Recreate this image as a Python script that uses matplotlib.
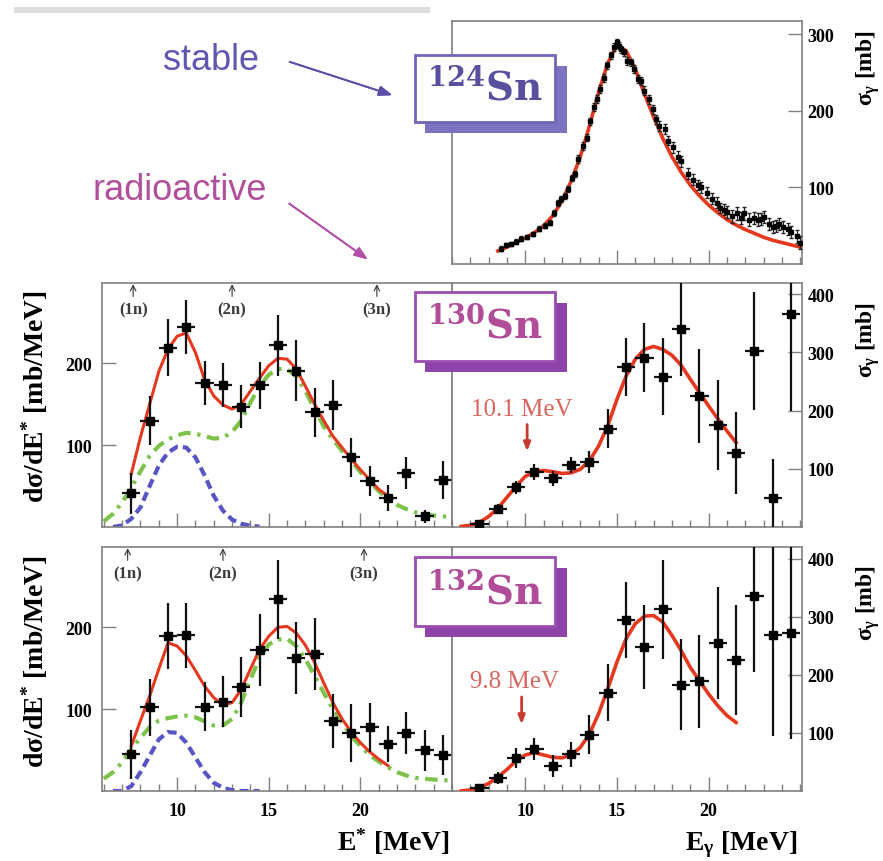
import matplotlib.pyplot as plt
from matplotlib.patches import Rectangle
from matplotlib.ticker import FixedLocator, MultipleLocator

plt.rcParams['font.family'] = 'Liberation Serif'
plt.rcParams['font.weight'] = 'bold'
plt.rcParams['mathtext.fontset'] = 'custom'
plt.rcParams['mathtext.rm'] = 'Liberation Serif:bold'
plt.rcParams['mathtext.it'] = 'Liberation Serif:bold'
plt.rcParams['mathtext.bf'] = 'Liberation Serif:bold'

W, H = 883, 862
RED = '#e5391f'
GREEN = '#7dc24a'
BLUE = '#5a55c4'
AXIS = '#808080'

# ---- 124Sn photoabsorption (top panel) ----
e124 = [8.65, 8.93, 9.2, 9.48, 9.76, 10.07, 10.4, 10.74, 11.05, 11.33, 11.55, 11.8, 11.97,
        12.16, 12.34, 12.53, 12.7, 12.9, 13.17, 13.36, 13.54, 13.73, 13.9, 14.1, 14.28,
        14.46, 14.65, 14.83, 14.98, 15.1, 15.2, 15.39, 15.57, 15.76, 15.94, 16.13, 16.3,
        16.5, 16.77, 16.96, 17.14, 17.32, 17.6, 17.8, 18.06, 18.34, 18.52, 18.9, 19.17,
        19.45, 19.6, 19.9, 20.2, 20.46, 20.65, 20.83, 21.0, 21.3, 21.57, 21.75, 21.94,
        22.2, 22.5, 22.7, 22.86, 23.04, 23.3, 23.5, 23.7, 23.87, 24.06, 24.34, 24.5,
        24.8, 25.0]
s124 = [20, 25, 26, 29, 33, 35, 39, 46, 50, 54, 66, 80, 85,
        89, 98, 112, 117, 137, 154, 165, 186, 205, 215, 228, 243,
        259, 272, 283, 289, 285, 280, 276, 265, 263, 254, 241, 239,
        226, 215, 202, 189, 180, 176, 161, 152, 140, 134, 118, 110,
        103, 100, 93, 85, 80, 73, 71, 68, 62, 66, 60, 66,
        58, 60, 58, 59, 61, 52, 48, 50, 52, 48, 46, 42,
        36, 28]
ds124 = [3, 3, 3, 3, 3, 3, 3, 3, 3, 3, 4, 4, 4,
         4, 4, 4, 4, 5, 5, 5, 5, 5, 5, 5, 5,
         5, 5, 5, 5, 5, 5, 5, 5, 5, 5, 5, 5,
         6, 6, 6, 6, 6, 6, 6, 7, 7, 7, 7, 7,
         7, 7, 7, 7, 7, 7, 7, 8, 8, 8, 8, 8,
         8, 8, 8, 8, 8, 8, 8, 8, 8, 8, 8, 8,
         8, 8]
fit124_e = [8.5, 9.0, 9.5, 10.0, 10.5, 11.0, 11.5, 12.0, 12.5, 13.0, 13.5, 14.0, 14.5,
            15.0, 15.5, 16.0, 16.5, 17.0, 17.5, 18.0, 18.5, 19.0, 19.5, 20.0, 20.5,
            21.0, 21.5, 22.0, 22.5, 23.0, 23.5, 24.0, 24.5, 25.0]
fit124 = [17, 22, 28, 34, 41, 50, 63, 82, 108, 140, 180, 224, 262,
          286, 278, 255, 222, 192, 164, 140, 120, 103, 89, 77, 67,
          58, 51, 45, 40, 35, 31, 28, 25, 22]

# ---- 130Sn / 132Sn: binned data, 1 MeV bins ----
e_bins = [7.5, 8.5, 9.5, 10.5, 11.5, 12.5, 13.5, 14.5, 15.5, 16.5, 17.5, 18.5,
          19.5, 20.5, 21.5, 22.5, 23.5, 24.5]

dsde130 = [41, 130, 219, 244, 176, 173, 147, 173, 222, 191, 140, 149, 85, 56, 35, 66, 13, 57]
dsde130_err = [25, 30, 35, 33, 27, 27, 26, 29, 37, 37, 30, 31, 24, 18, 16, 20, 8, 23]
sg130 = [5, 31, 68, 95, 84, 107, 112, 169, 275, 291, 258, 340, 225, 175, 127, 302, 50, 365]
sg130_err = [4, 8, 11, 14, 13, 14, 19, 33, 50, 60, 66, 80, 81, 77, 70, 101, 66, 165]

dsde132 = [45, 102, 189, 190, 103, 109, 127, 172, 234, 162, 167, 85, 71, 78, 57, 71, 50, 44]
dsde132_err = [30, 35, 40, 40, 30, 31, 37, 44, 48, 44, 44, 33, 35, 30, 22, 26, 25, 24]
sg132 = [6, 22, 57, 72, 43, 63, 97, 169, 294, 248, 313, 183, 189, 255, 225, 336, 268, 272]
sg132_err = [5, 10, 17, 19, 19, 22, 33, 49, 65, 72, 85, 78, 80, 96, 95, 131, 173, 182]

# fit curves
fit_e = [7.5, 8.0, 8.5, 9.0, 9.5, 10.0, 10.5, 11.0, 11.5, 12.0, 12.5, 13.0, 13.5, 14.0,
         14.5, 15.0, 15.5, 16.0, 16.5, 17.0, 17.5, 18.0, 18.5, 19.0, 19.5, 20.0, 20.5,
         21.0, 21.5]
fit130_dsde = [65, 110, 150, 190, 217, 233, 237, 213, 180, 160, 149, 144, 150, 166,
               182, 197, 206, 205, 193, 172, 150, 130, 111, 97, 83, 70, 58, 46, 38]
fit132_dsde = [55, 86, 116, 149, 181, 177, 165, 147, 128, 114, 105, 108, 124, 149,
               173, 189, 200, 201, 193, 178, 157, 132, 108, 88, 72, 59, 48, 39, 31]

gdr_e = [6.0, 6.5, 7.0, 7.5, 8.0, 8.5, 9.0, 9.5, 10.0, 10.5, 11.0, 11.5, 12.0, 12.5,
         13.0, 13.5, 14.0, 14.5, 15.0, 15.5, 16.0, 16.5, 17.0, 17.5, 18.0, 18.5, 19.0,
         19.5, 20.0, 20.5, 21.0, 21.5, 22.0, 22.5, 23.0, 23.5, 24.0, 24.5, 25.0]
gdr130 = [7, 16, 30, 48, 68, 87, 99, 107, 112, 115, 114, 111, 108, 109,
          116, 130, 152, 172, 186, 193, 193, 184, 166, 144, 123, 107, 93,
          81, 67, 55, 44, 34, 27, 22, 18, 16, 14, 13, 12]
gdr132 = [15, 23, 35, 51, 65, 78, 86, 89, 91, 92, 90, 85, 80, 80,
          88, 108, 136, 163, 179, 185, 186, 177, 161, 141, 120, 100, 84,
          67, 55, 44, 36, 29, 23, 19, 16, 15, 14, 13, 13]

pdr_e = [6.5, 7.0, 7.5, 8.0, 8.5, 9.0, 9.5, 10.0, 10.5, 11.0, 11.5, 12.0, 12.5, 13.0,
         13.5, 14.0, 14.5]
pdr130 = [0, 2, 10, 24, 50, 75, 91, 98, 97, 85, 63, 38, 20, 9, 4, 1.5, 0.5]
pdr132 = [0, 0, 6, 23, 43, 63, 72, 71, 59, 41, 23, 10, 4, 1, 0, 0, 0]

fit_sg_e = [6.5, 7.0, 7.5, 8.0, 8.5, 9.0, 9.5, 10.0, 10.5, 11.0, 11.5, 12.0, 12.5, 13.0,
            13.5, 14.0, 14.5, 15.0, 15.5, 16.0, 16.5, 17.0, 17.5, 18.0, 18.5, 19.0,
            19.5, 20.0, 20.5, 21.0, 21.5]
fit130_sg = [1, 3, 8, 18, 32, 51, 70, 87, 95, 97, 95, 92, 93, 99,
             114, 139, 174, 219, 259, 288, 305, 310, 305, 295, 278, 254,
             231, 208, 186, 165, 145]
fit132_sg = [0, 2, 6, 13, 24, 37, 52, 62, 66, 62, 58, 57, 62, 75,
             98, 133, 176, 222, 262, 288, 301, 302, 291, 268, 242, 213,
             190, 167, 147, 130, 118]

# neutron thresholds
thr_labels = ['(1n)', '(2n)', '(3n)']
thr130 = [7.6, 13.0, 20.9]
thr132 = [7.3, 12.5, 20.2]


def px_axes(fig, x0, y0, x1, y1):
    return fig.add_axes([x0 / W, 1 - y1 / H, (x1 - x0) / W, (y1 - y0) / H])


def px_text(fig, x, y, s, **kw):
    return fig.text(x / W, 1 - y / H, s, **kw)


def style_axes(ax, xlim, ylim, yticks, right=False, xlabels=False):
    ax.set_xlim(*xlim)
    ax.set_ylim(*ylim)
    for sp in ax.spines.values():
        sp.set_color(AXIS)
        sp.set_linewidth(1.2)
    ax.xaxis.set_major_locator(FixedLocator([10, 15, 20]))
    ax.xaxis.set_minor_locator(MultipleLocator(1))
    ax.yaxis.set_major_locator(FixedLocator(yticks))
    ax.tick_params(axis='x', which='major', direction='in', length=10, width=1,
                   color=AXIS, labelsize=13, pad=8, labelbottom=xlabels)
    ax.tick_params(axis='x', which='minor', direction='in', length=5, width=1, color=AXIS)
    if right:
        ax.yaxis.tick_right()
        ax.tick_params(axis='y', direction='in', length=10, width=1, color=AXIS,
                       labelsize=13, pad=4)
    else:
        ax.tick_params(axis='y', direction='in', length=10, width=1, color=AXIS,
                       labelsize=13, pad=7)


def data_points(ax, y, yerr):
    ax.errorbar(e_bins, y, xerr=0.5, yerr=yerr, fmt='s', ms=6, color='black',
                ecolor='#111111', elinewidth=1.6, capsize=0, zorder=4)


def thresholds(ax, energies):
    tr = ax.get_xaxis_transform()
    for lab, e in zip(thr_labels, energies):
        ax.annotate('', xy=(e, 0.995), xytext=(e, 0.945), xycoords=tr, textcoords=tr,
                    arrowprops=dict(arrowstyle='->', lw=0.8, color='#333333',
                                    shrinkA=0, shrinkB=0))
        ax.text(e, 0.893, lab, transform=tr, ha='center', va='center', fontsize=12,
                color='#3a3a3a')


def nucleus_box(fig, x0, y0, x1, y1, mass, edge, shadow, txt):
    fig.add_artist(Rectangle(((x0 + 10) / W, 1 - (y1 + 11) / H), (x1 - x0 + 2) / W,
                             (y1 - y0) / H, transform=fig.transFigure,
                             facecolor=shadow, edgecolor='none', zorder=10))
    fig.add_artist(Rectangle((x0 / W, 1 - y1 / H), (x1 - x0) / W, (y1 - y0) / H,
                             transform=fig.transFigure, facecolor='white',
                             edgecolor=edge, lw=2, zorder=11))
    px_text(fig, (x0 + x1) / 2, (y0 + y1) / 2, r'$^{%s}\mathrm{Sn}$' % mass,
            ha='center', va='center', fontsize=28, color=txt,
            math_fontfamily='dejavuserif', zorder=12)


fig = plt.figure(figsize=(W / 100, H / 100), dpi=100, facecolor='white')

# gray strip at the top
fig.add_artist(Rectangle((14 / W, 1 - 14 / H), 416 / W, 6 / H, transform=fig.transFigure,
                         facecolor='#dddddd', edgecolor='none'))

ax_top = px_axes(fig, 452, 22, 802, 265)
ax_ml = px_axes(fig, 102, 284, 452, 528)
ax_mr = px_axes(fig, 452, 284, 802, 528)
ax_bl = px_axes(fig, 102, 548, 452, 792)
ax_br = px_axes(fig, 452, 548, 802, 792)

xl_left = (5.9, 25.0)
xl_right = (6.0, 25.1)
sig_label = r'$\sigma_{\gamma}$ [mb]'
dsde_label = r'd$\sigma$/dE$^{*}$ [mb/MeV]'

# top: 124Sn
style_axes(ax_top, xl_right, (0, 317), [100, 200, 300], right=True)
ax_top.plot(fit124_e, fit124, color=RED, lw=2.6, zorder=3)
ax_top.errorbar(e124, s124, yerr=ds124, fmt='s', ms=2.5, color='black', ecolor='#222222',
                elinewidth=0.9, capsize=1.5, zorder=4)
px_text(fig, 868, 68, sig_label, rotation=90, ha='center', va='center', fontsize=17)

# middle: 130Sn
style_axes(ax_ml, xl_left, (0, 298), [100, 200])
ax_ml.plot(gdr_e, gdr130, color=GREEN, lw=3, ls=(0, (3, 1.6, 0.8, 1.6)), zorder=2)
ax_ml.plot(pdr_e, pdr130, color=BLUE, lw=3, ls=(0, (2.2, 1.2)), zorder=2)
ax_ml.plot(fit_e, fit130_dsde, color=RED, lw=2.2, zorder=3)
data_points(ax_ml, dsde130, dsde130_err)
thresholds(ax_ml, thr130)
px_text(fig, 35, 397, dsde_label, rotation=90, ha='center', va='center', fontsize=20)

style_axes(ax_mr, xl_right, (0, 419), [100, 200, 300, 400], right=True)
ax_mr.plot(fit_sg_e, fit130_sg, color=RED, lw=2.6, zorder=3)
data_points(ax_mr, sg130, sg130_err)
px_text(fig, 868, 340, sig_label, rotation=90, ha='center', va='center', fontsize=17)
ax_mr.annotate('', xy=(10.1, 130), xytext=(10.1, 176),
               arrowprops=dict(arrowstyle='-|>,head_length=0.5,head_width=0.2', lw=2,
                               color='#c83a30', shrinkA=0, shrinkB=0))
ax_mr.text(9.8, 202, '10.1 MeV', ha='center', va='center', fontsize=18,
           fontweight='normal', color='#d8665e')

# bottom: 132Sn
style_axes(ax_bl, xl_left, (0, 298), [100, 200], xlabels=True)
ax_bl.plot(gdr_e, gdr132, color=GREEN, lw=3, ls=(0, (3, 1.6, 0.8, 1.6)), zorder=2)
ax_bl.plot(pdr_e, pdr132, color=BLUE, lw=3, ls=(0, (2.2, 1.2)), zorder=2)
ax_bl.plot(fit_e, fit132_dsde, color=RED, lw=2.2, zorder=3)
data_points(ax_bl, dsde132, dsde132_err)
thresholds(ax_bl, thr132)
px_text(fig, 35, 662, dsde_label, rotation=90, ha='center', va='center', fontsize=20)
px_text(fig, 450, 842, r'E$^{*}$ [MeV]', ha='right', va='center', fontsize=20)

style_axes(ax_br, xl_right, (0, 420), [100, 200, 300, 400], right=True, xlabels=True)
ax_br.plot(fit_sg_e, fit132_sg, color=RED, lw=2.6, zorder=3)
data_points(ax_br, sg132, sg132_err)
px_text(fig, 868, 603, sig_label, rotation=90, ha='center', va='center', fontsize=17)
px_text(fig, 797, 845, r'E$_{\gamma}$ [MeV]', ha='right', va='center', fontsize=20)
ax_br.annotate('', xy=(9.8, 115), xytext=(9.8, 162),
               arrowprops=dict(arrowstyle='-|>,head_length=0.5,head_width=0.2', lw=2,
                               color='#c83a30', shrinkA=0, shrinkB=0))
ax_br.text(9.4, 190, '9.8 MeV', ha='center', va='center', fontsize=18,
           fontweight='normal', color='#d8665e')

# nucleus tags
nucleus_box(fig, 415, 56, 555, 123, '124', '#6f66b8', '#7b72c0', '#58509e')
nucleus_box(fig, 415, 293, 555, 362, '130', '#9a4db0', '#8e44a8', '#b04c98')
nucleus_box(fig, 415, 558, 555, 627, '132', '#9a4db0', '#8e44a8', '#b04c98')

# stable / radioactive notes
px_text(fig, 211, 60, 'stable', ha='center', va='center', fontsize=26,
        family='Liberation Sans', fontweight='normal', color='#6058b0')
px_text(fig, 180, 190, 'radioactive', ha='center', va='center', fontsize=26,
        family='Liberation Sans', fontweight='normal', color='#b0509a')
fig.add_artist(plt.annotate('', xy=(395 / W, 1 - 97 / H), xytext=(287 / W, 1 - 62 / H),
                            xycoords='figure fraction', textcoords='figure fraction',
                            arrowprops=dict(arrowstyle='-|>,head_length=0.8,head_width=0.3',
                                            lw=1.3, color='#5a50aa')))
fig.add_artist(plt.annotate('', xy=(370 / W, 1 - 262 / H), xytext=(287 / W, 1 - 203 / H),
                            xycoords='figure fraction', textcoords='figure fraction',
                            arrowprops=dict(arrowstyle='-|>,head_length=0.8,head_width=0.3',
                                            lw=1.3, color='#b050a8')))

fig.savefig('out.png', dpi=100, facecolor='white')
